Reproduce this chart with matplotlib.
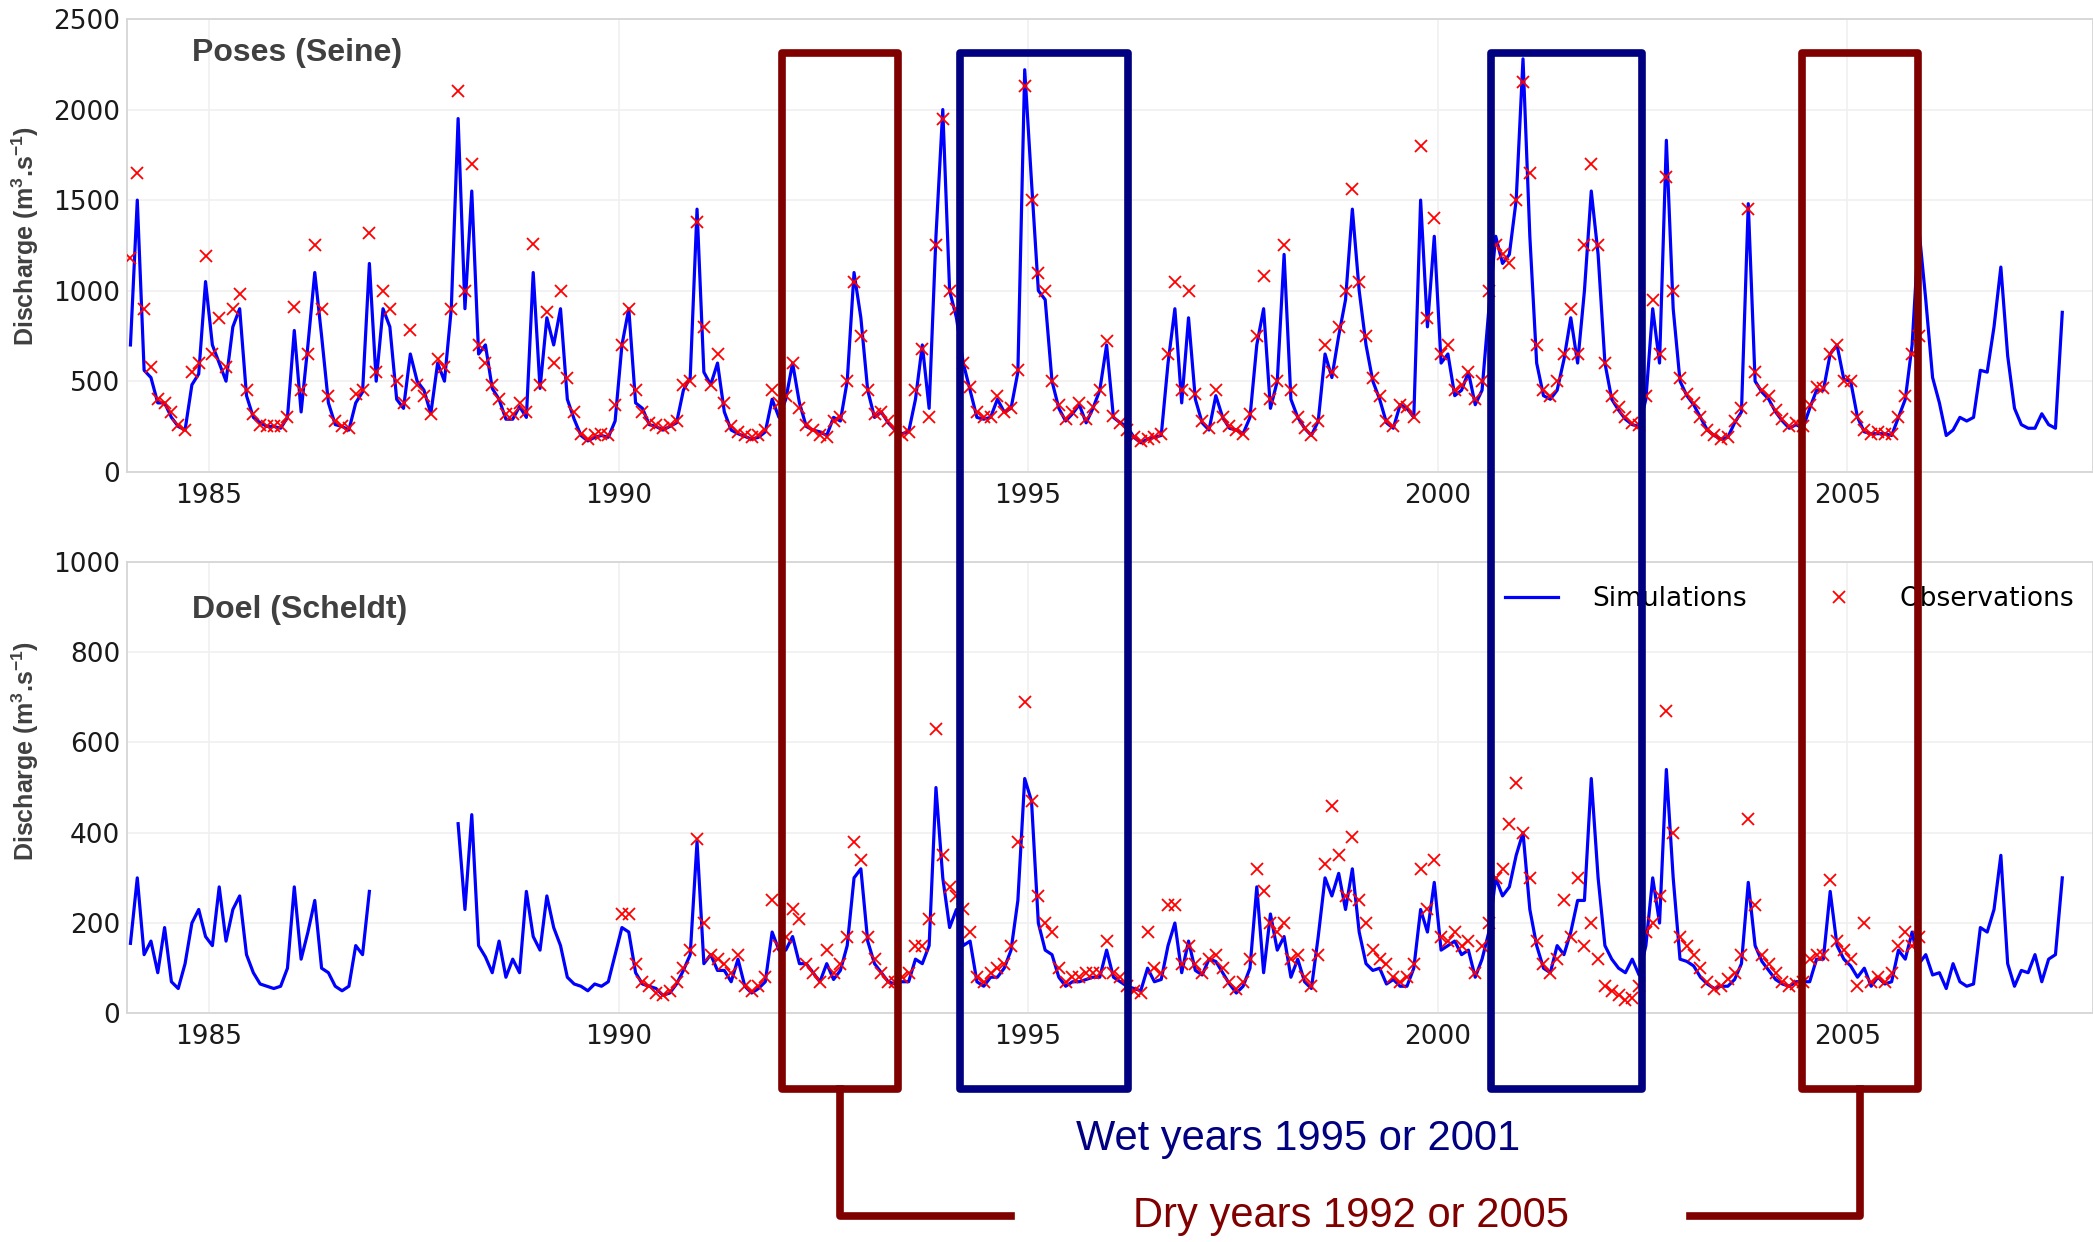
import numpy as np
import matplotlib.pyplot as plt
from matplotlib.lines import Line2D
from matplotlib.patches import Rectangle

nan = np.nan

# monthly values, Seine at Poses (m3/s), simulations Jan 1984 - Aug 2007
seine_sim = [
    700, 1500, 560, 520, 380, 380, 300, 250, 230, 480, 540, 1050,    # 1984
    700, 600, 500, 800, 900, 420, 300, 270, 250, 250, 240, 300,      # 1985
    780, 330, 700, 1100, 750, 380, 260, 250, 230, 380, 440, 1150,    # 1986
    500, 900, 800, 400, 350, 650, 500, 450, 320, 600, 500, 900,      # 1987
    1950, 900, 1550, 650, 700, 460, 400, 290, 290, 360, 300, 1100,   # 1988
    460, 850, 700, 900, 400, 290, 200, 170, 190, 200, 190, 280,      # 1989
    700, 900, 380, 350, 260, 250, 230, 250, 270, 450, 520, 1450,     # 1990
    550, 480, 600, 330, 230, 210, 195, 180, 190, 220, 400, 300,      # 1991
    400, 600, 380, 250, 230, 220, 200, 300, 280, 500, 1100, 850,     # 1992
    450, 300, 330, 270, 230, 210, 220, 400, 700, 350, 1300, 2000,    # 1993
    1000, 850, 600, 450, 300, 290, 300, 400, 330, 350, 550, 2220,    # 1994
    1600, 1000, 950, 500, 350, 280, 320, 370, 270, 350, 450, 700,    # 1995
    300, 270, 250, 190, 160, 180, 190, 200, 600, 900, 380, 850,      # 1996
    400, 270, 230, 420, 300, 240, 230, 210, 300, 700, 900, 350,      # 1997
    500, 1200, 400, 300, 240, 200, 280, 650, 520, 750, 950, 1450,    # 1998
    1000, 700, 500, 400, 270, 240, 370, 350, 300, 1500, 800, 1300,   # 1999
    600, 650, 420, 450, 550, 370, 450, 900, 1300, 1150, 1200, 1500,  # 2000
    2280, 1300, 600, 420, 400, 450, 620, 850, 600, 1000, 1550, 1200, # 2001
    600, 400, 340, 290, 260, 250, 400, 900, 600, 1830, 900, 500,     # 2002
    420, 370, 300, 230, 200, 180, 190, 270, 330, 1480, 500, 440,     # 2003
    400, 330, 280, 240, 260, 240, 350, 450, 450, 650, 700, 510,      # 2004
    500, 300, 220, 210, 210, 210, 200, 300, 400, 700, 1340, 950,     # 2005
    520, 380, 200, 230, 300, 280, 300, 560, 550, 800, 1130, 640,     # 2006
    350, 260, 240, 240, 320, 260, 240, 880,                          # 2007
]

# observations Jan 1984 - Nov 2005
seine_obs = [
    1180, 1650, 900, 580, 400, 380, 330, 260, 230, 550, 600, 1190,
    650, 850, 580, 900, 980, 450, 320, 260, 250, 250, 250, 300,
    910, 450, 650, 1250, 900, 420, 280, 250, 240, 430, 450, 1320,
    550, 1000, 900, 500, 380, 780, 480, 420, 320, 620, 580, 900,
    2100, 1000, 1700, 700, 600, 480, 400, 320, 320, 380, 330, 1260,
    480, 880, 600, 1000, 520, 330, 210, 180, 200, 210, 200, 370,
    700, 900, 450, 330, 270, 260, 240, 260, 280, 480, 500, 1380,
    800, 480, 650, 380, 250, 220, 200, 190, 200, 230, 450, 380,
    420, 600, 350, 260, 230, 200, 190, 280, 300, 500, 1050, 750,
    450, 320, 330, 280, 230, 200, 220, 450, 680, 300, 1250, 1950,
    1000, 900, 600, 470, 330, 300, 300, 420, 330, 350, 560, 2130,
    1500, 1100, 1000, 500, 370, 290, 330, 380, 290, 360, 450, 720,
    310, 270, 230, 190, 170, 180, 190, 210, 650, 1050, 450, 1000,
    430, 280, 240, 450, 300, 250, 230, 210, 320, 750, 1080, 400,
    500, 1250, 450, 300, 240, 200, 280, 700, 550, 800, 1000, 1560,
    1050, 750, 520, 420, 280, 250, 370, 360, 300, 1800, 850, 1400,
    650, 700, 450, 480, 550, 400, 500, 1000, 1250, 1200, 1150, 1500,
    2150, 1650, 700, 450, 420, 500, 650, 900, 650, 1250, 1700, 1250,
    600, 420, 360, 300, 270, 260, 420, 950, 650, 1630, 1000, 520,
    430, 380, 300, 230, 200, 180, 190, 280, 350, 1450, 550, 450,
    420, 340, 290, 250, 270, 250, 370, 470, 460, 650, 700, 500,
    500, 300, 230, 210, 220, 210, 210, 300, 420, 650, 750,
]

# Scheldt at Doel, simulations Jan 1984 - Aug 2007 (no run in 1987)
scheldt_sim = [
    155, 300, 130, 160, 90, 190, 70, 55, 110, 200, 230, 170,         # 1984
    150, 280, 160, 230, 260, 130, 90, 65, 60, 55, 60, 100,           # 1985
    280, 120, 180, 250, 100, 90, 60, 50, 60, 150, 130, 270,          # 1986
    nan, nan, nan, nan, nan, nan, nan, nan, nan, nan, nan, nan,      # 1987
    420, 230, 440, 150, 125, 90, 160, 80, 120, 90, 270, 170,         # 1988
    140, 260, 190, 150, 80, 65, 60, 50, 65, 60, 70, 130,             # 1989
    190, 180, 90, 65, 60, 55, 40, 45, 65, 95, 130, 380,              # 1990
    110, 130, 95, 95, 70, 120, 60, 45, 55, 70, 180, 140,             # 1991
    140, 170, 110, 110, 90, 70, 110, 75, 95, 150, 300, 320,          # 1992
    160, 110, 90, 70, 65, 70, 70, 120, 110, 150, 500, 300,           # 1993
    190, 230, 150, 160, 70, 60, 80, 80, 100, 140, 250, 520,          # 1994
    470, 200, 140, 130, 80, 60, 70, 70, 75, 80, 80, 140,             # 1995
    80, 70, 60, 55, 50, 100, 70, 75, 150, 200, 90, 160,              # 1996
    95, 85, 120, 115, 90, 65, 45, 60, 100, 280, 90, 220,             # 1997
    140, 170, 80, 120, 70, 55, 170, 300, 260, 310, 230, 320,         # 1998
    180, 110, 95, 100, 65, 75, 60, 60, 100, 230, 180, 290,           # 1999
    140, 150, 160, 130, 140, 80, 120, 180, 300, 260, 280, 350,       # 2000
    400, 230, 150, 100, 90, 150, 130, 180, 250, 250, 520, 300,       # 2001
    150, 120, 100, 90, 120, 85, 150, 300, 200, 540, 300, 120,        # 2002
    115, 105, 80, 65, 55, 60, 60, 75, 110, 290, 150, 115,            # 2003
    95, 75, 65, 60, 70, 70, 70, 120, 120, 270, 150, 120,             # 2004
    105, 80, 100, 60, 80, 65, 70, 140, 120, 180, 110, 130,           # 2005
    85, 90, 55, 110, 70, 60, 65, 190, 180, 230, 350, 110,            # 2006
    60, 95, 90, 130, 70, 120, 130, 300,                              # 2007
]

# observations Jan 1990 - Nov 2005
scheldt_obs = [
    220, 220, 110, 70, 60, 45, 40, 50, 70, 100, 140, 385,
    200, 130, 120, 110, 90, 130, 60, 50, 60, 80, 250, 150,
    170, 230, 210, 110, 90, 70, 140, 90, 110, 170, 380, 340,
    170, 120, 90, 70, 70, 80, 90, 150, 150, 210, 630, 350,
    280, 260, 230, 180, 80, 70, 90, 100, 110, 150, 380, 690,
    470, 260, 200, 180, 100, 70, 80, 80, 90, 90, 90, 160,
    90, 80, 60, 50, 45, 180, 100, 90, 240, 240, 110, 150,
    110, 90, 120, 130, 100, 70, 55, 70, 120, 320, 270, 200,
    180, 200, 120, 130, 80, 60, 130, 330, 460, 350, 260, 390,
    250, 200, 140, 120, 110, 80, 70, 80, 110, 320, 230, 340,
    170, 160, 180, 150, 160, 90, 150, 200, 300, 320, 420, 510,
    400, 300, 160, 110, 90, 120, 250, 170, 300, 150, 200, 120,
    60, 50, 40, 30, 35, 60, 180, 200, 260, 670, 400, 170,
    150, 130, 100, 70, 55, 60, 75, 90, 130, 430, 240, 130,
    110, 90, 70, 60, 65, 70, 120, 130, 130, 295, 160, 140,
    120, 60, 200, 70, 80, 70, 90, 150, 180, 150, 170,
]

year_ticks = [1985, 1990, 1995, 2000, 2005]
label_font = ['Liberation Sans Narrow', 'Liberation Sans', 'DejaVu Sans']


def monthly_time(start_year, n):
    return start_year + (np.arange(n) + 0.5) / 12.0


def draw_panel(ax, sim, sim_start, obs, obs_start, ymax, ystep, title, title_y, label_y):
    ax.plot(monthly_time(sim_start, len(sim)), sim, color='#0000ff', lw=2.3, zorder=2)
    ax.plot(monthly_time(obs_start, len(obs)), obs, ls='none', marker='x',
            color='#ff0000', ms=8, mew=1.3, zorder=3)
    ax.set_xlim(1984, 2008)
    ax.set_ylim(0, ymax)
    ax.set_xticks(year_ticks)
    ax.set_yticks(np.arange(0, ymax + 1, ystep))
    ax.grid(True, color='#f0f0f0', lw=1.2)
    ax.set_axisbelow(True)
    for s in ax.spines.values():
        s.set_color('#d6d6d6')
        s.set_linewidth(1.3)
    ax.tick_params(length=0, labelsize=19, colors='#1a1a1a')
    ax.tick_params(axis='x', pad=8)
    ax.tick_params(axis='y', pad=5)
    ax.set_ylabel('Discharge (m$^\\mathregular{3}$.s$^\\mathregular{-1}$)',
                  family=label_font, fontweight='bold', fontsize=18,
                  color='#404040', va='center')
    ax.yaxis.set_label_coords(-0.052, label_y)
    ax.text(0.033, title_y, title, transform=ax.transAxes, fontsize=23,
            fontweight='bold', color='#404040', family='Liberation Sans', va='center')


fig = plt.figure(figsize=(20.93, 12.42), dpi=100)
ax1 = fig.add_axes([0.0607, 0.6202, 0.9393, 0.3645])
ax2 = fig.add_axes([0.0607, 0.1841, 0.9393, 0.3636])

draw_panel(ax1, seine_sim, 1984, seine_obs, 1984, 2500, 500, 'Poses (Seine)', 0.925, 0.52)
draw_panel(ax2, scheldt_sim, 1984, scheldt_obs, 1990, 1000, 200, 'Doel (Scheldt)', 0.893, 0.58)

handles = [Line2D([], [], color='#0000ff', lw=2.3),
           Line2D([], [], ls='none', marker='x', color='#ff0000', ms=8, mew=1.3)]
ax2.legend(handles, ['Simulations', 'Observations'], ncol=2, loc='center left',
           bbox_to_anchor=(0.701, 0.917), frameon=False, fontsize=19,
           handlelength=2.0, handletextpad=1.3, columnspacing=2.5,
           borderpad=0, borderaxespad=0)

# annotation overlay in figure pixels
W, H = 2093.0, 1242.0
dry = '#800000'
wet = '#000080'


def fx(x):
    return x / W


def fy(y):
    return 1 - y / H


box_top, box_bottom = 53, 1089
for x0, x1, c in [(782, 898, dry), (960, 1128, wet), (1491, 1642, wet), (1802, 1918, dry)]:
    fig.add_artist(Rectangle((fx(x0), fy(box_bottom)), fx(x1) - fx(x0), fy(box_top) - fy(box_bottom),
                             transform=fig.transFigure, fill=False, ec=c, lw=5.5,
                             joinstyle='round', zorder=10))

fig.add_artist(Line2D([fx(840), fx(840), fx(1011)], [fy(1089), fy(1216), fy(1216)],
                      transform=fig.transFigure, color=dry, lw=5.5, zorder=10))
fig.add_artist(Line2D([fx(1690), fx(1860), fx(1860)], [fy(1216), fy(1216), fy(1089)],
                      transform=fig.transFigure, color=dry, lw=5.5, zorder=10))

fig.text(fx(1298), fy(1139), 'Wet years 1995 or 2001', color=wet, fontsize=30,
         family=label_font, ha='center', va='center')
fig.text(fx(1351), fy(1216), 'Dry years 1992 or 2005', color=dry, fontsize=30,
         family=label_font, ha='center', va='center')

fig.savefig('out.png', dpi=100)
